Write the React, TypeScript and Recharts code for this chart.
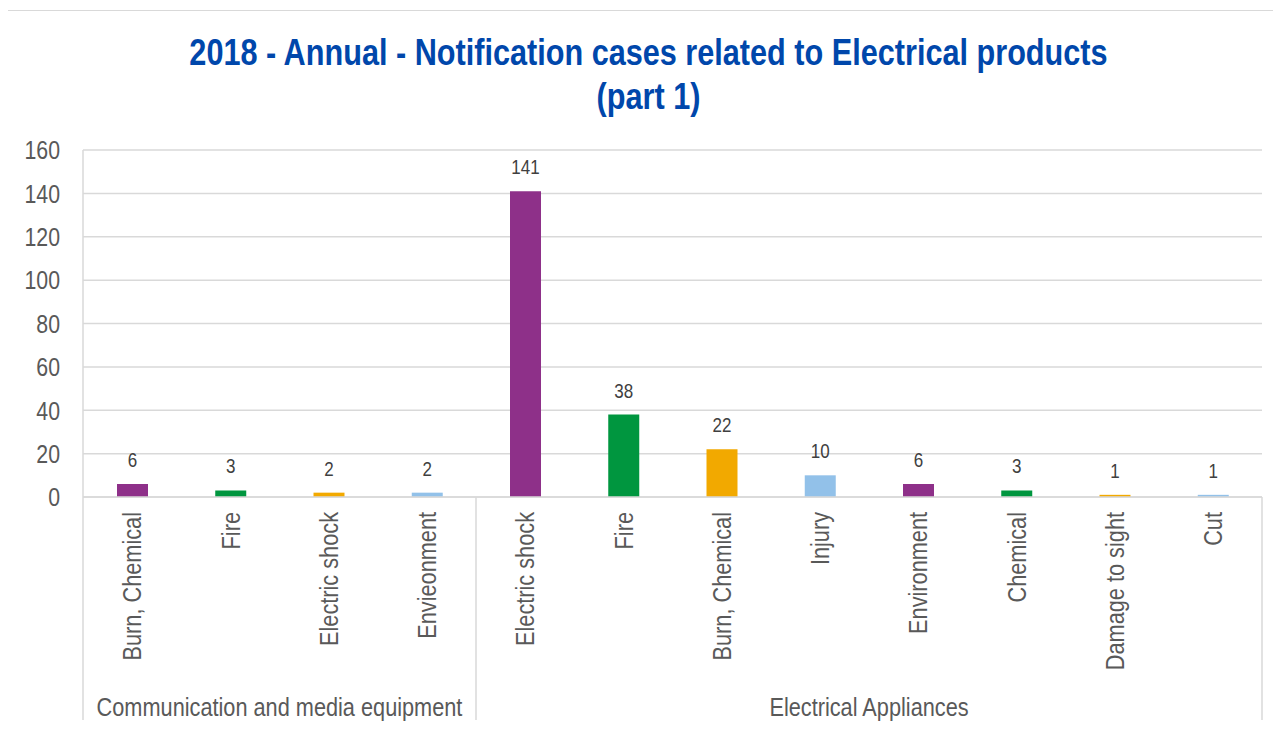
import React from 'react';
import { BarChart, Bar, XAxis, YAxis, CartesianGrid, Cell, LabelList } from 'recharts';

const categories = [
  'Burn, Chemical', 'Fire', 'Electric shock', 'Envieonment',
  'Electric shock', 'Fire', 'Burn, Chemical', 'Injury', 'Environment', 'Chemical', 'Damage to sight', 'Cut',
];
const groups = [
  'Communication and media equipment', 'Communication and media equipment', 'Communication and media equipment', 'Communication and media equipment',
  'Electrical Appliances', 'Electrical Appliances', 'Electrical Appliances', 'Electrical Appliances',
  'Electrical Appliances', 'Electrical Appliances', 'Electrical Appliances', 'Electrical Appliances',
];
const values = [6, 3, 2, 2, 141, 38, 22, 10, 6, 3, 1, 1];
const barColors = ['#8E3089', '#00963F', '#F2A900', '#92C1E9'];
const yTicks = [0, 20, 40, 60, 80, 100, 120, 140, 160];

const data = categories.map((c, i) => ({ cat: c, group: groups[i], value: values[i], key: i }));

const FONT = "'Liberation Sans', Arial, sans-serif";
const SX = 0.82;
const MARGIN = { top: 150, right: 19, bottom: 10, left: 0 };
const Y_WIDTH = 83;
const PLOT_LEFT = MARGIN.left + Y_WIDTH;
const X_HEIGHT = 224;

const NText = ({ x, y, rotate = 0, sx = SX, children, ...rest }: any) => (
  <text
    transform={`translate(${x},${y}) rotate(${rotate}) scale(${sx},1)`}
    x={0}
    y={0}
    fontFamily={FONT}
    {...rest}
  >
    {children}
  </text>
);

const XTick = (props: any) => {
  const { x, y, payload } = props;
  const i: number = payload.index;
  const half = (x - PLOT_LEFT) / (2 * i + 1);
  const g = groups[i];
  const first = i === 0 || groups[i - 1] !== g;
  const last = i === groups.length - 1;
  const count = groups.filter((v) => v === g).length;
  return (
    <g>
      <NText x={x} y={y + 15} rotate={-90} textAnchor="end" dominantBaseline="central" fill="#595959" fontSize={26.5}>
        {categories[i]}
      </NText>
      {first && (
        <line x1={x - half} x2={x - half} y1={y} y2={y + 223} stroke="#d9d9d9" strokeWidth={1.5} />
      )}
      {last && (
        <line x1={x + half} x2={x + half} y1={y} y2={y + 223} stroke="#d9d9d9" strokeWidth={1.5} />
      )}
      {first && (
        <NText x={x + (count - 1) * half} y={y + 210} textAnchor="middle" dominantBaseline="central" fill="#595959" fontSize={26.5}>
          {g}
        </NText>
      )}
    </g>
  );
};

const YTick = (props: any) => {
  const { x, y, payload } = props;
  return (
    <NText x={x} y={y} textAnchor="end" dominantBaseline="central" fill="#595959" fontSize={26}>
      {payload.value}
    </NText>
  );
};

const ValueLabel = (props: any) => {
  const { x, y, width, value } = props;
  return (
    <NText x={x + width / 2} y={y - 17} textAnchor="middle" fill="#404040" fontSize={20} sx={0.85}>
      {value}
    </NText>
  );
};

export default function App() {
  return (
    <div style={{ position: 'relative', width: 1281, height: 731, margin: -8 }}>
      <div
        style={{
          position: 'absolute', left: 5, top: 10, width: 1276, height: 730,
          border: '1px solid #d9d9d9', boxSizing: 'border-box', background: '#fff',
        }}
      />
      <div
        style={{
          position: 'absolute', left: 0, top: 31, width: 1297, textAlign: 'center',
          fontFamily: FONT, fontWeight: 'bold', fontSize: 37, lineHeight: '44px', color: '#0047AB',
        }}
      >
        <div style={{ display: 'inline-block', transform: 'scaleX(0.828)', transformOrigin: 'center', whiteSpace: 'nowrap' }}>
          2018 - Annual - Notification cases related to Electrical products
          <br />
          (part 1)
        </div>
      </div>
      <div style={{ position: 'absolute', left: 0, top: 0 }}>
        <BarChart width={1281} height={731} data={data} margin={MARGIN}>
          <CartesianGrid vertical={false} stroke="#d9d9d9" strokeWidth={1.5} />
          <XAxis
            dataKey="key"
            type="category"
            interval={0}
            height={X_HEIGHT}
            tickLine={false}
            tickSize={0}
            tickMargin={0}
            axisLine={{ stroke: '#d9d9d9', strokeWidth: 1.5 }}
            tick={<XTick />}
          />
          <YAxis
            width={Y_WIDTH}
            domain={[0, 160]}
            ticks={yTicks}
            interval={0}
            tickLine={false}
            tickMargin={17}
            axisLine={{ stroke: '#d9d9d9', strokeWidth: 1.5 }}
            tick={<YTick />}
          />
          <Bar dataKey="value" barSize={31} isAnimationActive={false}>
            {data.map((d, i) => (
              <Cell key={i} fill={barColors[i % barColors.length]} />
            ))}
            <LabelList dataKey="value" content={<ValueLabel />} />
          </Bar>
        </BarChart>
      </div>
    </div>
  );
}
